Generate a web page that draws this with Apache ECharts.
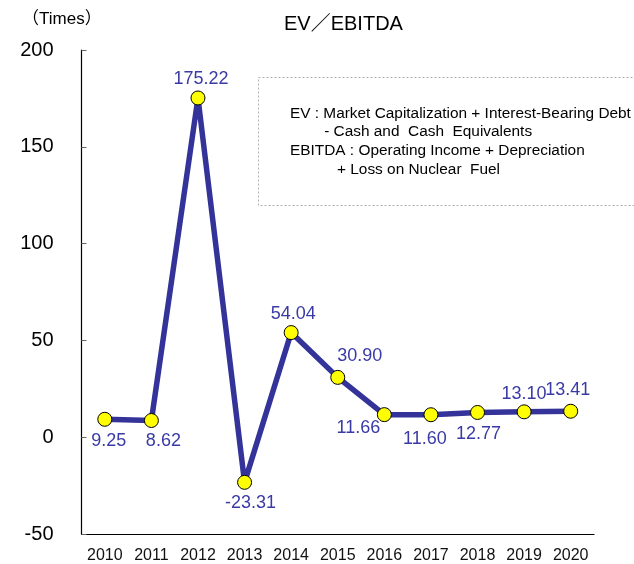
<!DOCTYPE html>
<html>
  <head>
    <meta charset="utf-8" />
    <title>EV/EBITDA</title>
    <script src="https://cdn.jsdelivr.net/npm/echarts@6/dist/echarts.min.js"></script>
    <style>
      * { margin: 0; padding: 0; }
      html, body { width: 100%; height: 100%; background: #fff; }
    </style>
  </head>
  <body>
    <div id="main" style="width: 634px; height: 564px;"></div>
    <script type="text/javascript">
      // data
      const years = ['2010', '2011', '2012', '2013', '2014', '2015', '2016', '2017', '2018', '2019', '2020'];
      const evEbitda = [9.25, 8.62, 175.22, -23.31, 54.04, 30.90, 11.66, 11.60, 12.77, 13.10, 13.41];
      const yTicks = [-50, 0, 50, 100, 150, 200];
      const noteLines = [
        'EV : Market Capitalization + Interest-Bearing Debt',
        '        - Cash and  Cash  Equivalents',
        'EBITDA : Operating Income + Depreciation',
        '           + Loss on Nuclear  Fuel'
      ];

      // where each value label sits relative to its marker
      const labelShift = [[4, 22], [12, 21], [3, -19], [6, 21], [2, -19], [22, -21],
                          [-26, 13], [-6, 24], [1, 22], [0, -18], [-3, -21]];

      const font = '"Liberation Sans", "Noto Sans CJK JP", sans-serif';
      const chart = echarts.init(document.getElementById('main'));

      const option = {
        animation: false,
        textStyle: { fontFamily: font },
        title: {
          text: 'EV／EBITDA',
          left: 279,
          top: 9,
          textStyle: { fontSize: 20, fontWeight: 'normal', color: '#000', fontFamily: font }
        },
        grid: { left: 81.5, right: 40, top: 50, bottom: 30 },
        xAxis: {
          type: 'category',
          data: years,
          axisLine: { onZero: false, lineStyle: { color: '#000', width: 1.2 } },
          axisTick: { inside: true, length: 5, lineStyle: { color: '#888' } },
          axisLabel: { color: '#111', fontSize: 16, margin: 14, fontFamily: font }
        },
        yAxis: {
          type: 'value',
          min: yTicks[0],
          max: yTicks[yTicks.length - 1],
          interval: 50,
          splitLine: { show: false },
          axisLine: { show: true, lineStyle: { color: '#000', width: 1.2 } },
          axisTick: { show: true, inside: true, length: 5, lineStyle: { color: '#666' } },
          axisLabel: { color: '#000', fontSize: 20, margin: 28, fontFamily: font }
        },
        series: [{
          type: 'line',
          data: evEbitda.map((v, i) => ({
            value: v,
            label: { offset: labelShift[i] }
          })),
          lineStyle: { color: '#333399', width: 5.5 },
          symbol: 'circle',
          symbolSize: 14,
          itemStyle: { color: '#ffff00', borderColor: '#000', borderWidth: 1 },
          label: {
            show: true,
            position: 'inside',
            color: '#3a3aa6',
            fontSize: 18,
            fontFamily: font,
            formatter: p => p.value.toFixed(2)
          },
          z: 3
        }],
        graphic: [
          {
            type: 'text',
            left: 22,
            top: 11,
            style: { text: '（Times）', fill: '#000', font: '17px ' + font }
          },
          {
            type: 'rect',
            shape: { x: 258.5, y: 77.5, width: 420, height: 128 },
            style: { fill: 'none', stroke: '#b0b0b0', lineWidth: 1, lineDash: [2, 2] }
          },
          {
            type: 'text',
            x: 290,
            y: 104,
            style: {
              text: noteLines.join('\n'),
              font: '15.4px ' + font,
              fill: '#000',
              lineHeight: 18.7
            }
          }
        ]
      };
      chart.setOption(option);
    </script>
  </body>
</html>
